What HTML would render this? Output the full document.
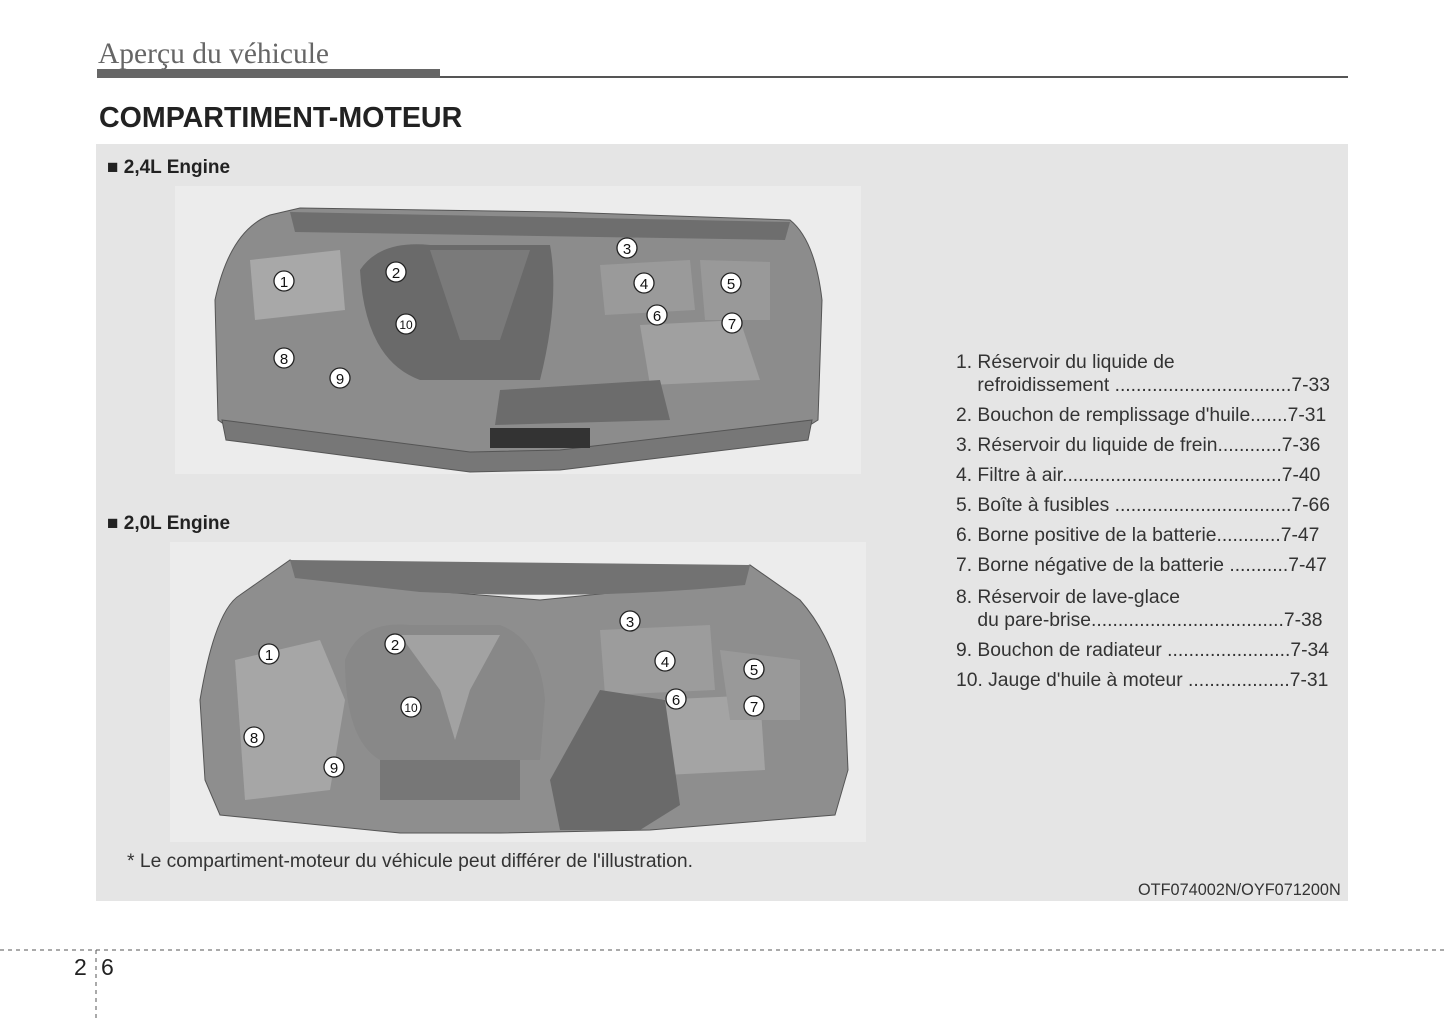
<!DOCTYPE html>
<html><head><meta charset="utf-8"><style>
body{margin:0;width:1445px;height:1019px;background:#fff;position:relative;overflow:hidden;font-family:"Liberation Sans",sans-serif;color:#222}
.a{position:absolute}
.hdr{left:98px;top:38px;font-family:"Liberation Serif",serif;font-size:29.5px;color:#666}
.li{position:absolute;left:956px;font-size:19.3px;line-height:22px;color:#333;white-space:pre}
.n{fill:#fff;stroke:#222;stroke-width:1.3}
.t{font-family:"Liberation Sans",sans-serif;font-size:15px;text-anchor:middle;fill:#111}
</style></head><body>
<div class="a hdr">Aperçu du véhicule</div>
<div class="a" style="left:97px;top:69px;width:343px;height:9px;background:#666"></div>
<div class="a" style="left:440px;top:76px;width:908px;height:2px;background:#555"></div>
<div class="a" style="left:99px;top:102px;font-size:28.6px;font-weight:bold;color:#222">COMPARTIMENT-MOTEUR</div>
<div class="a" style="left:96px;top:144px;width:1252px;height:757px;background:#e5e5e5"></div>
<div class="a" style="left:175px;top:186px;width:686px;height:288px;background:#ececec"></div>
<div class="a" style="left:170px;top:542px;width:696px;height:300px;background:#ececec"></div>
<div class="a" style="left:107px;top:157px;font-size:19px;font-weight:bold">■ 2,4L Engine</div>
<div class="a" style="left:107px;top:513px;font-size:19px;font-weight:bold">■ 2,0L Engine</div>
<svg class="a" style="left:0;top:0" width="1445" height="1019">
<path d="M215 300 Q230 230 270 215 L300 208 L560 212 L790 220 Q815 240 822 300 L818 420 L810 425 L560 460 L470 468 L225 425 L218 420 Z" fill="#8c8c8c" stroke="#555"/>
<path d="M290 212 L790 222 L785 240 L295 232 Z" fill="#6e6e6e"/>
<path d="M360 270 Q380 240 430 245 L550 245 Q560 300 540 380 L420 380 Q365 360 360 270Z" fill="#6a6a6a"/>
<path d="M430 250 L530 250 L500 340 L460 340Z" fill="#7a7a7a"/>
<path d="M250 260 L340 250 L345 310 L255 320Z" fill="#a8a8a8"/>
<path d="M600 265 L690 260 L695 310 L605 315Z" fill="#9a9a9a"/>
<path d="M640 325 L740 320 L760 380 L650 385Z" fill="#a0a0a0"/>
<path d="M700 260 L770 262 L770 320 L705 320Z" fill="#999"/>
<path d="M500 390 L660 380 L670 420 L495 425Z" fill="#6c6c6c"/>
<path d="M222 420 L470 452 L560 450 L812 420 L808 440 L560 470 L470 472 L226 440Z" fill="#777" stroke="#555"/>
<path d="M490 428 L590 428 L590 448 L490 448Z" fill="#333"/>
<path d="M200 700 Q215 610 240 595 L290 560 Q320 575 420 590 L540 600 L640 590 Q700 585 750 565 L800 600 Q835 640 845 700 L848 770 L835 815 L650 830 L500 833 L400 833 L220 815 L205 780 Z" fill="#8e8e8e" stroke="#555"/>
<path d="M290 560 L750 565 L745 585 Q600 600 420 592 L295 578Z" fill="#727272"/>
<path d="M345 660 Q360 620 410 625 L500 625 Q540 640 545 700 L540 760 L380 760 Q345 740 345 660Z" fill="#888"/>
<path d="M400 635 L500 635 L470 690 L455 740 L440 690Z" fill="#a2a2a2"/>
<path d="M235 660 L320 640 L345 700 L330 790 L245 800Z" fill="#a6a6a6"/>
<path d="M600 630 L710 625 L715 690 L605 695Z" fill="#9c9c9c"/>
<path d="M655 700 L760 695 L765 770 L665 775Z" fill="#a4a4a4"/>
<path d="M720 650 L800 660 L800 720 L730 720Z" fill="#999"/>
<path d="M550 780 L600 690 L665 700 L680 805 L640 830 L560 830Z" fill="#6a6a6a"/>
<path d="M380 760 L520 760 L520 800 L380 800Z" fill="#777"/>
<g>
<circle class="n" cx="284" cy="281" r="10"/><text class="t" x="284" y="287">1</text>
<circle class="n" cx="396" cy="272" r="10"/><text class="t" x="396" y="278">2</text>
<circle class="n" cx="627" cy="248" r="10"/><text class="t" x="627" y="254">3</text>
<circle class="n" cx="644" cy="283" r="10"/><text class="t" x="644" y="289">4</text>
<circle class="n" cx="731" cy="283" r="10"/><text class="t" x="731" y="289">5</text>
<circle class="n" cx="657" cy="315" r="10"/><text class="t" x="657" y="321">6</text>
<circle class="n" cx="732" cy="323" r="10"/><text class="t" x="732" y="329">7</text>
<circle class="n" cx="284" cy="358" r="10"/><text class="t" x="284" y="364">8</text>
<circle class="n" cx="340" cy="378" r="10"/><text class="t" x="340" y="384">9</text>
<circle class="n" cx="406" cy="324" r="10"/><text class="t" x="406" y="329" style="font-size:12px">10</text>
<circle class="n" cx="269" cy="654" r="10"/><text class="t" x="269" y="660">1</text>
<circle class="n" cx="395" cy="644" r="10"/><text class="t" x="395" y="650">2</text>
<circle class="n" cx="630" cy="621" r="10"/><text class="t" x="630" y="627">3</text>
<circle class="n" cx="665" cy="661" r="10"/><text class="t" x="665" y="667">4</text>
<circle class="n" cx="754" cy="669" r="10"/><text class="t" x="754" y="675">5</text>
<circle class="n" cx="676" cy="699" r="10"/><text class="t" x="676" y="705">6</text>
<circle class="n" cx="754" cy="706" r="10"/><text class="t" x="754" y="712">7</text>
<circle class="n" cx="254" cy="737" r="10"/><text class="t" x="254" y="743">8</text>
<circle class="n" cx="334" cy="767" r="10"/><text class="t" x="334" y="773">9</text>
<circle class="n" cx="411" cy="707" r="10"/><text class="t" x="411" y="712" style="font-size:12px">10</text>
</g>
<line x1="0" y1="950" x2="1445" y2="950" stroke="#555" stroke-dasharray="4,4"/>
<line x1="96" y1="950" x2="96" y2="1019" stroke="#555" stroke-dasharray="4,4"/>
</svg>
<div class="li" style="top:352px">1. Réservoir du liquide de</div>
<div class="li" style="top:375px">    refroidissement .................................7-33</div>
<div class="li" style="top:405px">2. Bouchon de remplissage d'huile.......7-31</div>
<div class="li" style="top:435px">3. Réservoir du liquide de frein............7-36</div>
<div class="li" style="top:465px">4. Filtre à air.........................................7-40</div>
<div class="li" style="top:495px">5. Boîte à fusibles .................................7-66</div>
<div class="li" style="top:525px">6. Borne positive de la batterie............7-47</div>
<div class="li" style="top:555px">7. Borne négative de la batterie ...........7-47</div>
<div class="li" style="top:587px">8. Réservoir de lave-glace</div>
<div class="li" style="top:610px">    du pare-brise....................................7-38</div>
<div class="li" style="top:640px">9. Bouchon de radiateur .......................7-34</div>
<div class="li" style="top:670px">10. Jauge d'huile à moteur ...................7-31</div>
<div class="a" style="left:127px;top:851px;font-size:19.3px;color:#333">* Le compartiment-moteur du véhicule peut différer de l'illustration.</div>
<div class="a" style="left:1138px;top:881px;font-size:16.3px;color:#333">OTF074002N/OYF071200N</div>
<div class="a" style="left:74px;top:954px;font-size:23px;color:#222">2</div>
<div class="a" style="left:101px;top:954px;font-size:23px;color:#222">6</div>
</body></html>
